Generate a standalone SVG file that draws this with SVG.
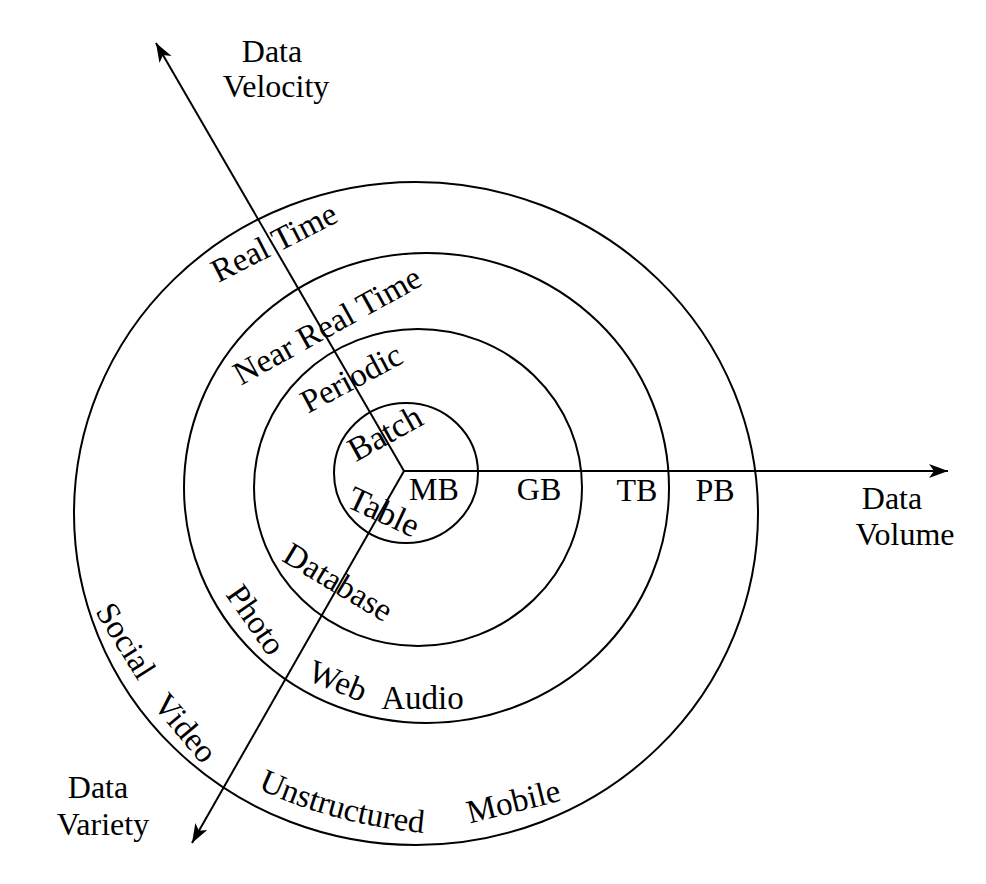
<svg xmlns="http://www.w3.org/2000/svg" width="986" height="884" viewBox="0 0 986 884">
  <style>
    .ring { fill: none; stroke: #000; stroke-width: 2; }
    .axis { fill: none; stroke: #000; stroke-width: 2; }
    text { font-family: "Liberation Serif", "Times New Roman", serif; fill: #000; }
    .lbl { font-size: 33px; text-anchor: middle; }
    .ax { font-size: 32px; text-anchor: middle; }
  </style>
  <defs>
    <marker id="arrow" markerUnits="userSpaceOnUse" markerWidth="20" markerHeight="16" viewBox="0 0 20 16" refX="19" refY="7" orient="auto">
      <path d="M0,0 L19,7 L0,14 L5,7 Z" fill="#000"/>
    </marker>
    <path id="arcUnstructured" d="M256,788 A500,500 0 0,0 425,833"/>
  </defs>
  <rect width="986" height="884" fill="#fff"/>

  <g id="rings">
    <ellipse id="ring-pb" class="ring" cx="416" cy="513.5" rx="342" ry="331.5"/>
    <ellipse id="ring-tb" class="ring" cx="426.5" cy="488" rx="242.5" ry="235"/>
    <ellipse id="ring-gb" class="ring" cx="418" cy="487.5" rx="164" ry="158.5"/>
    <ellipse id="ring-mb" class="ring" cx="406" cy="473" rx="72" ry="70"/>
  </g>

  <g id="connectors">
    <line id="axis-volume" class="axis" x1="404" y1="471" x2="948" y2="471" marker-end="url(#arrow)"/>
    <line id="axis-velocity" class="axis" x1="404" y1="471" x2="156" y2="43" marker-end="url(#arrow)"/>
    <line id="axis-variety" class="axis" x1="404" y1="471" x2="192" y2="843" marker-end="url(#arrow)"/>
  </g>

  <g id="axis-titles">
    <g id="title-velocity">
      <text class="ax" x="272" y="62">Data</text>
      <text class="ax" x="276" y="97">Velocity</text>
    </g>
    <g id="title-volume">
      <text class="ax" x="892" y="509">Data</text>
      <text class="ax" x="905" y="545">Volume</text>
    </g>
    <g id="title-variety">
      <text class="ax" x="98" y="798">Data</text>
      <text class="ax" x="103" y="835">Variety</text>
    </g>
  </g>

  <g id="volume-labels">
    <text id="lbl-mb" class="ax" x="434" y="500">MB</text>
    <text id="lbl-gb" class="ax" x="539" y="500">GB</text>
    <text id="lbl-tb" class="ax" x="637" y="501">TB</text>
    <text id="lbl-pb" class="ax" x="715" y="501">PB</text>
  </g>

  <g id="velocity-labels">
    <text id="lbl-realtime" class="lbl" transform="translate(279,252) rotate(-27)">Real Time</text>
    <text id="lbl-nearrealtime" class="lbl" transform="translate(332.5,335) rotate(-29)">Near Real Time</text>
    <text id="lbl-periodic" class="lbl" transform="translate(356.5,388) rotate(-28)">Periodic</text>
    <text id="lbl-batch" class="lbl" style="font-size:34px" transform="translate(390.5,443) rotate(-29)">Batch</text>
  </g>

  <g id="variety-labels">
    <text id="lbl-table" class="lbl" style="font-size:34px" transform="translate(379,522) rotate(25)">Table</text>
    <text id="lbl-database" class="lbl" transform="translate(332.5,591.5) rotate(31)">Database</text>
    <text id="lbl-photo" class="lbl" transform="translate(247,626) rotate(55)">Photo</text>
    <text id="lbl-web" class="lbl" transform="translate(334,691) rotate(22)">Web</text>
    <text id="lbl-audio" class="lbl" x="422.5" y="709">Audio</text>
    <text id="lbl-social" class="lbl" transform="translate(116.5,646.5) rotate(58)">Social</text>
    <text id="lbl-video" class="lbl" transform="translate(177,735) rotate(50)">Video</text>
    <text id="lbl-unstructured" class="lbl"><textPath href="#arcUnstructured" startOffset="50%">Unstructured</textPath></text>
    <text id="lbl-mobile" class="lbl" transform="translate(516,812) rotate(-14)">Mobile</text>
  </g>
</svg>
